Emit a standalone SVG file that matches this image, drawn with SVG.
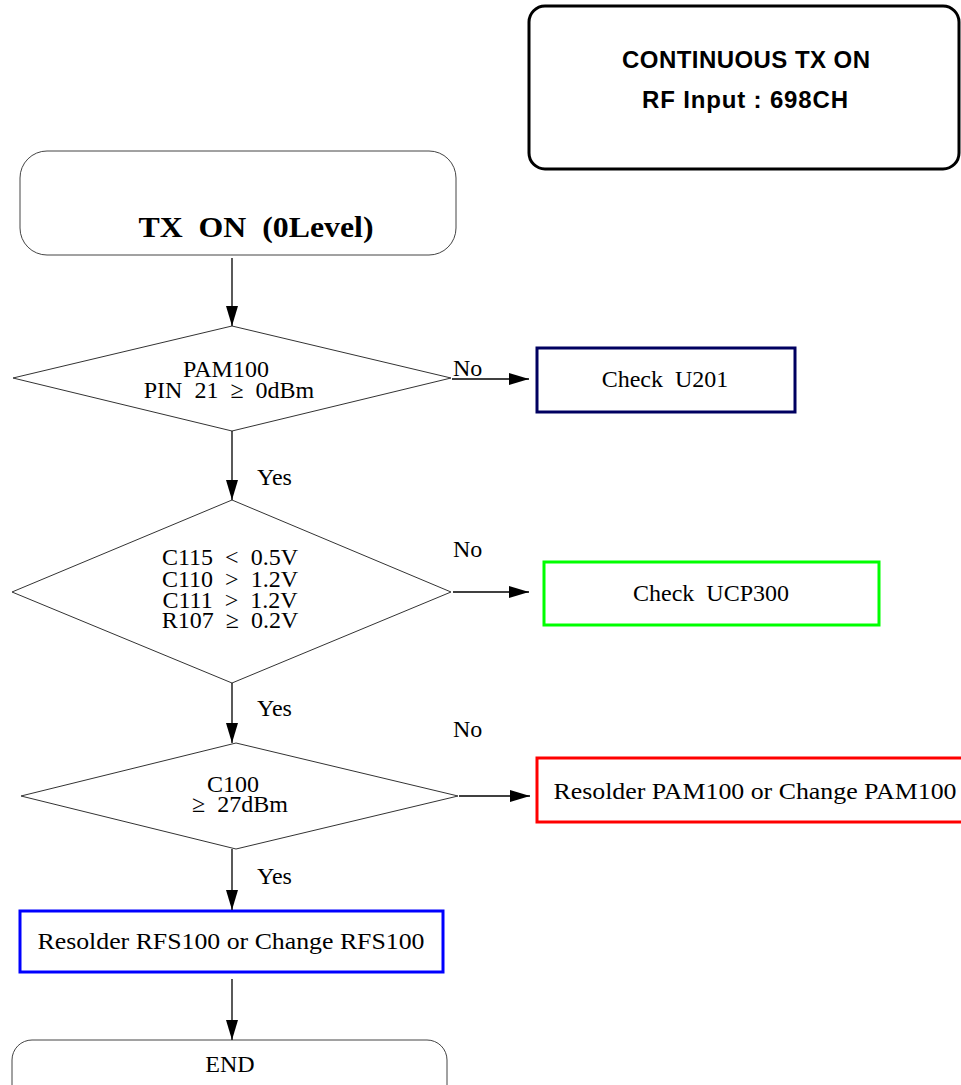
<svg xmlns="http://www.w3.org/2000/svg" width="961" height="1085" viewBox="0 0 961 1085">
<defs>
<marker id="ah" markerUnits="userSpaceOnUse" markerWidth="20" markerHeight="12" refX="20" refY="6" orient="auto">
<path d="M0,0 L20,6 L0,12 z" fill="#000"/>
</marker>
<style>
.t{font-family:"Liberation Serif","Times New Roman",serif;font-size:24px;fill:#000;text-anchor:middle;white-space:pre}
.lbl{font-family:"Liberation Serif","Times New Roman",serif;font-size:24px;fill:#000}
.hd{font-family:"Liberation Sans",Arial,sans-serif;font-size:24px;font-weight:bold;fill:#000;text-anchor:middle}
.dia{fill:#fff;stroke:#333;stroke-width:1}
.term{fill:#fff;stroke:#444;stroke-width:1}
.con{stroke:#000;stroke-width:1.3;fill:none;marker-end:url(#ah)}
</style>
</defs>
<rect width="961" height="1085" fill="#fff"/>

<g id="header">
<rect x="529" y="6" width="430" height="163" rx="16" fill="#fff" stroke="#000" stroke-width="3"/>
<text class="hd" x="746" y="68" textLength="248">CONTINUOUS TX ON</text>
<text class="hd" x="745" y="108" textLength="206">RF Input : 698CH</text>
</g>

<g id="start">
<rect class="term" x="20" y="151" width="436" height="104" rx="27"/>
<text x="256" y="237" text-anchor="middle" xml:space="preserve" style="white-space:pre" font-family="'Liberation Serif','Times New Roman',serif" font-weight="bold" font-size="30" textLength="235" lengthAdjust="spacingAndGlyphs">TX  ON  (0Level)</text>
</g>

<g id="d1">
<polygon class="dia" points="232,326 451,378 232,431 13,378"/>
<text class="t" xml:space="preserve"><tspan x="226" y="377">PAM100</tspan><tspan x="229" y="398">PIN  21  ≥  0dBm</tspan></text>
</g>

<g id="u201">
<rect x="537" y="348" width="258" height="64" fill="#fff" stroke="#000060" stroke-width="3"/>
<text class="t" x="665" y="387" xml:space="preserve">Check  U201</text>
</g>

<g id="d2">
<polygon class="dia" points="232,500 451,592 232,683 12,592"/>
<text class="t" xml:space="preserve"><tspan x="230" y="565">C115  &lt;  0.5V</tspan><tspan x="230" y="587">C110  &gt;  1.2V</tspan><tspan x="230" y="608">C111  &gt;  1.2V</tspan><tspan x="230" y="628">R107  ≥  0.2V</tspan></text>
</g>

<g id="ucp300">
<rect x="544" y="562" width="335" height="63" fill="#fff" stroke="#00ff00" stroke-width="3"/>
<text class="t" x="711" y="601" xml:space="preserve">Check  UCP300</text>
</g>

<g id="d3">
<polygon class="dia" points="236,743 458,796 236,849 21,796"/>
<text class="t" xml:space="preserve"><tspan x="233" y="792">C100</tspan><tspan x="240" y="812">≥  27dBm</tspan></text>
</g>

<g id="pam">
<rect x="537" y="758" width="440" height="64" fill="#fff" stroke="#ff0000" stroke-width="3"/>
<text class="t" x="755" y="799" textLength="403" lengthAdjust="spacingAndGlyphs">Resolder PAM100 or Change PAM100</text>
</g>

<g id="rfs">
<rect x="20" y="911" width="423" height="61" fill="#fff" stroke="#0000ff" stroke-width="3"/>
<text class="t" x="231" y="949" textLength="387" lengthAdjust="spacingAndGlyphs">Resolder RFS100 or Change RFS100</text>
</g>

<g id="end">
<rect class="term" x="12" y="1040" width="435" height="70" rx="20"/>
<text class="t" x="230" y="1072">END</text>
</g>

<g id="connectors">
<line class="con" x1="232" y1="258" x2="232" y2="326"/>
<line class="con" x1="452" y1="379" x2="529" y2="379"/>
<line class="con" x1="232" y1="431" x2="232" y2="500"/>
<line class="con" x1="453" y1="592" x2="529" y2="592"/>
<line class="con" x1="232" y1="683" x2="232" y2="743"/>
<line class="con" x1="459" y1="796" x2="530" y2="796"/>
<line class="con" x1="232" y1="849" x2="232" y2="910"/>
<line class="con" x1="232" y1="979" x2="232" y2="1040"/>
<text class="lbl" x="453" y="376">No</text>
<text class="lbl" x="453" y="557">No</text>
<text class="lbl" x="453" y="737">No</text>
<text class="lbl" x="257" y="485">Yes</text>
<text class="lbl" x="257" y="716">Yes</text>
<text class="lbl" x="257" y="884">Yes</text>
</g>
</svg>
